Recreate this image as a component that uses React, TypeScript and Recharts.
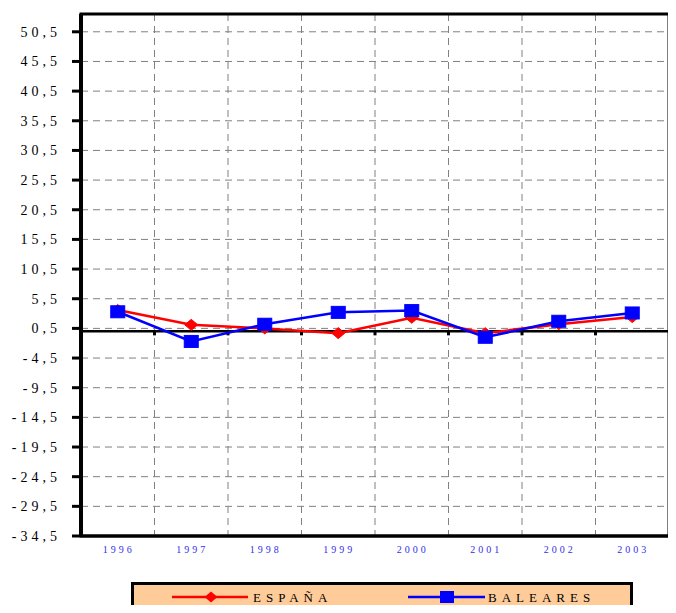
import React from 'react';
import { LineChart, Line, XAxis, YAxis, CartesianGrid, ReferenceLine, ReferenceArea } from 'recharts';

const years = ['1996', '1997', '1998', '1999', '2000', '2001', '2002', '2003'];
const espana = [3.6, 1.1, 0.5, -0.3, 2.3, -0.3, 1.2, 2.4];
const baleares = [3.3, -1.7, 1.2, 3.2, 3.5, -1.0, 1.7, 3.1];
const yTicks = [-34.5, -29.5, -24.5, -19.5, -14.5, -9.5, -4.5, 0.5, 5.5, 10.5, 15.5, 20.5, 25.5, 30.5, 35.5, 40.5, 45.5, 50.5];
const yDomain = [-34.5, 53.5];
const seriesNames = ['ESPAÑA', 'BALEARES'];

const data = years.map((y, i) => ({ year: y, espana: espana[i], baleares: baleares[i] }));

const SERIF = '"Liberation Serif", "Times New Roman", serif';

const fmt = (v: number) => v.toFixed(1).replace('.', ',');

const YTick = (props: any) => {
  const { x, y, payload } = props;
  return (
    <text x={x} y={y} dy={5} textAnchor="end" fontFamily={SERIF} fontSize={14} letterSpacing={4} fill="#000">
      {fmt(payload.value)}
    </text>
  );
};

const XTick = (props: any) => {
  const { x, y, payload } = props;
  return (
    <text x={x + 1} y={y} dy={9} textAnchor="middle" fontFamily={SERIF} fontSize={10} letterSpacing={3} fill="#3030e8">
      {payload.value}
    </text>
  );
};

const Diamond = (props: any) => {
  const { cx, cy, index } = props;
  if (cx == null || cy == null) return <g key={`d${index}`} />;
  return (
    <path key={`d${index}`} d={`M${cx},${cy - 5.5} L${cx + 6.5},${cy} L${cx},${cy + 5.5} L${cx - 6.5},${cy} Z`} fill="#ff0000" stroke="#ff0000" strokeWidth={1} />
  );
};

const Square = (props: any) => {
  const { cx, cy, index } = props;
  if (cx == null || cy == null) return <g key={`s${index}`} />;
  return <rect key={`s${index}`} x={cx - 7} y={cy - 6} width={14} height={12} fill="#0000ff" stroke="#0000ff" strokeWidth={1} />;
};

const ZeroLine = (props: any) => {
  const { x1, y1, x2, y2 } = props;
  const marks = [1, 2, 3, 4, 5, 6, 7];
  return (
    <g>
      <line x1={x1} y1={y1} x2={x2} y2={y2} stroke="#000" strokeWidth={2.5} />
      {marks.map((i) => (
        <rect key={i} x={x1 + ((x2 - x1) * i) / 8 - 1.5} y={y1} width={3} height={4} fill="#000" />
      ))}
    </g>
  );
};

const vGen = (args: any) => {
  const { xAxis, offset } = args;
  const res: number[] = [];
  for (let i = 1; i < years.length; i++) {
    let v = NaN;
    try {
      v = xAxis && xAxis.scale ? Number(xAxis.scale(years[i])) : NaN;
    } catch (e) {
      v = NaN;
    }
    if (!isFinite(v)) v = offset.left + (offset.width * i) / years.length;
    res.push(v);
  }
  return res;
};

export default function App() {
  return (
    <div style={{ position: 'relative', width: 676, height: 613, margin: -8, overflow: 'hidden', background: '#fff' }}>
      <LineChart width={676} height={613} data={data} margin={{ top: 14, right: 7, left: 0, bottom: 47 }}>
        <CartesianGrid stroke="#808080" strokeDasharray="7 5" strokeWidth={1} verticalCoordinatesGenerator={vGen} />
        <XAxis
          dataKey="year"
          scale="band"
          height={30}
          tick={<XTick />}
          tickLine={false}
          axisLine={{ stroke: '#000', strokeWidth: 3 }}
          interval={0}
        />
        <YAxis
          width={81}
          domain={yDomain}
          ticks={yTicks}
          interval={0}
          tick={<YTick />}
          tickSize={9}
          tickMargin={11}
          tickLine={{ stroke: '#000', strokeWidth: 3 }}
          axisLine={{ stroke: '#000', strokeWidth: 4 }}
          allowDataOverflow
        />
        <ReferenceArea y1={yDomain[0]} y2={yDomain[1]} fill="none" stroke="#000" strokeWidth={3} ifOverflow="visible" />
        <ReferenceLine y={0} shape={<ZeroLine />} />
        <Line type="linear" dataKey="espana" name={seriesNames[0]} stroke="#ff0000" strokeWidth={2.5} dot={<Diamond />} activeDot={false} isAnimationActive={false} />
        <Line type="linear" dataKey="baleares" name={seriesNames[1]} stroke="#0000ff" strokeWidth={2.5} dot={<Square />} activeDot={false} isAnimationActive={false} />
      </LineChart>
      <div
        style={{
          position: 'absolute',
          left: 131,
          top: 582,
          width: 502,
          height: 40,
          boxSizing: 'border-box',
          border: '3px solid #000',
          background: '#FFCC99',
          fontFamily: SERIF,
        }}
      >
        <svg width={496} height={34} style={{ position: 'absolute', left: 0, top: 0 }}>
          <line x1={38} y1={12} x2={114} y2={12} stroke="#ff0000" strokeWidth={2.5} />
          <path d="M77,6.5 L83.5,12 L77,17.5 L70.5,12 Z" fill="#ff0000" />
          <line x1={274} y1={12} x2={351} y2={12} stroke="#0000ff" strokeWidth={2.5} />
          <rect x={306} y={6} width={14} height={12} fill="#0000ff" />
          <text x={119} y={16.5} fontFamily={SERIF} fontSize={13} letterSpacing={5} fill="#000">{seriesNames[0]}</text>
          <text x={354} y={16.5} fontFamily={SERIF} fontSize={13} letterSpacing={5} fill="#000">{seriesNames[1]}</text>
        </svg>
      </div>
    </div>
  );
}
